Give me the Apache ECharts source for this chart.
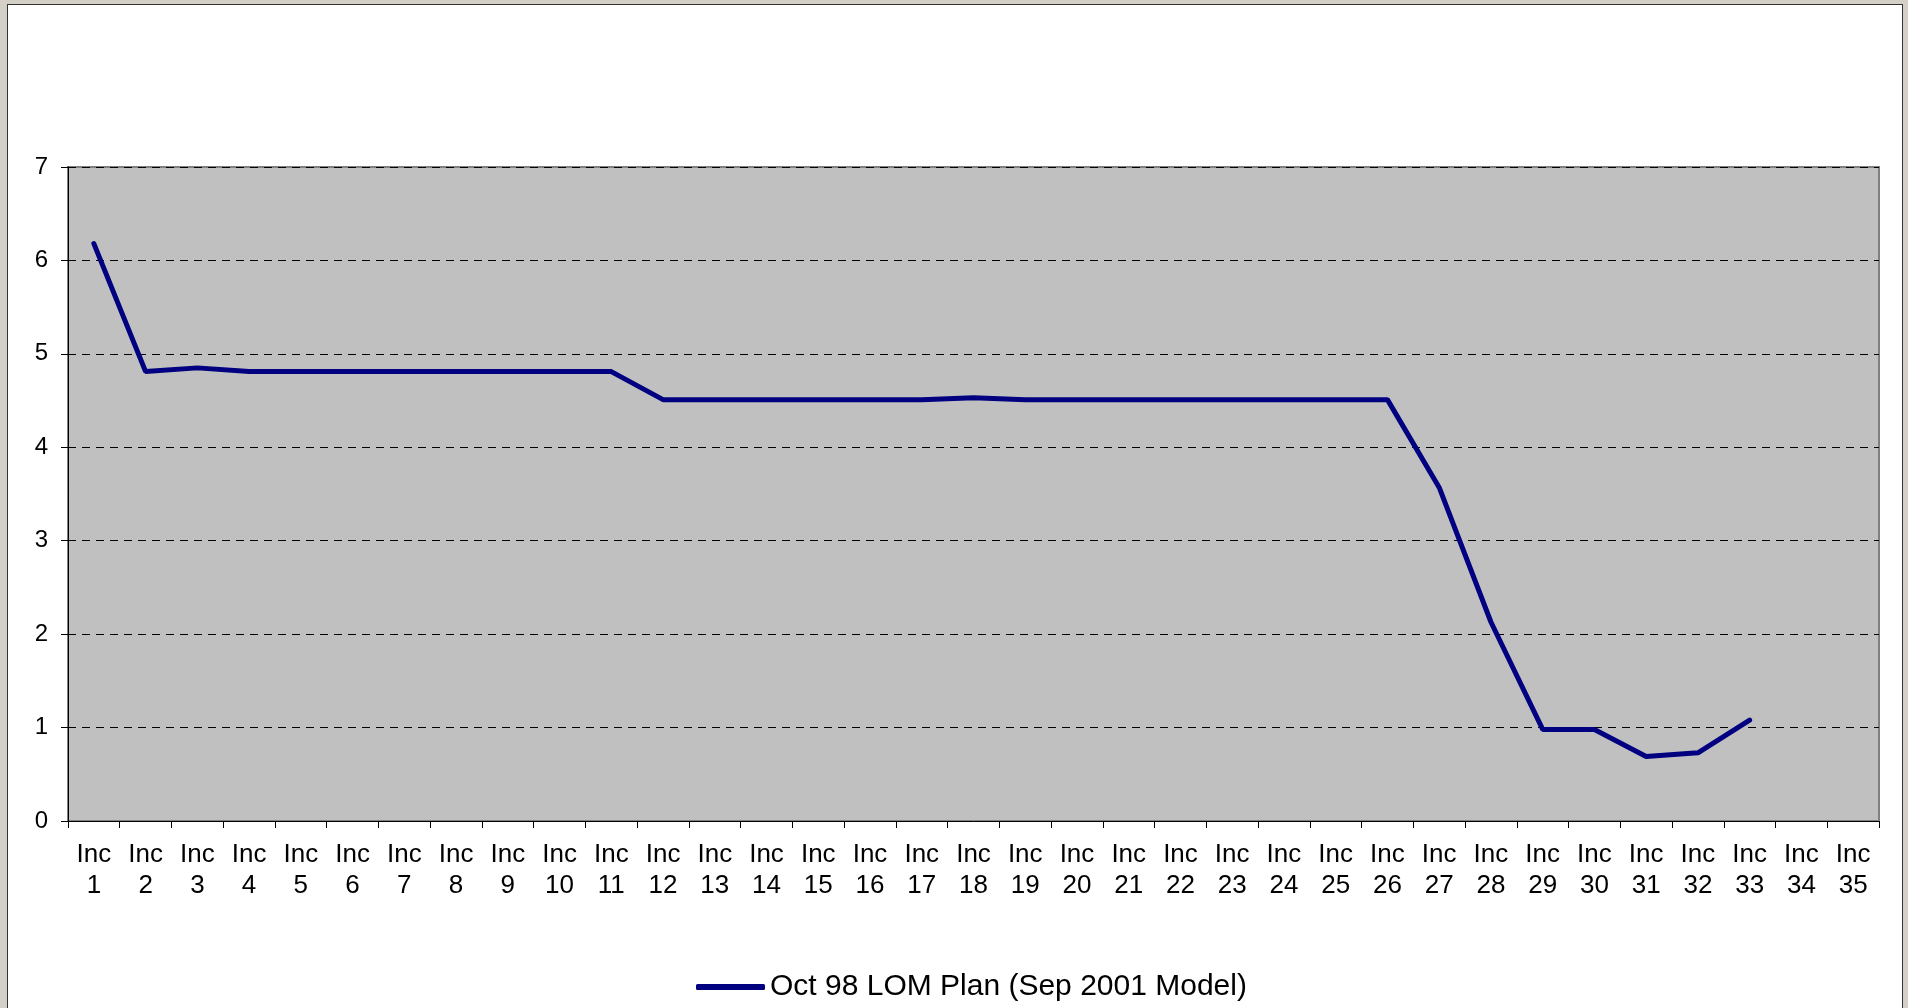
<!DOCTYPE html>
<html>
<head>
<meta charset="utf-8">
<script src="https://cdn.jsdelivr.net/npm/echarts@6/dist/echarts.min.js"></script>
<style>
  html, body { margin: 0; padding: 0; background: #d4d0c8; overflow: hidden; }
  #panel { position: absolute; left: 7px; top: 4px; width: 1894px; height: 1010px; background: #fff; border: 1px solid #333; }
  #chart { position: absolute; left: 0; top: 0; width: 1908px; height: 1008px; }
</style>
</head>
<body>
<div id="panel"></div>
<div id="chart"></div>
<script>
// categories Inc 1 .. Inc 35
const categories = [
  'Inc\n1', 'Inc\n2', 'Inc\n3', 'Inc\n4', 'Inc\n5', 'Inc\n6', 'Inc\n7',
  'Inc\n8', 'Inc\n9', 'Inc\n10', 'Inc\n11', 'Inc\n12', 'Inc\n13', 'Inc\n14',
  'Inc\n15', 'Inc\n16', 'Inc\n17', 'Inc\n18', 'Inc\n19', 'Inc\n20', 'Inc\n21',
  'Inc\n22', 'Inc\n23', 'Inc\n24', 'Inc\n25', 'Inc\n26', 'Inc\n27', 'Inc\n28',
  'Inc\n29', 'Inc\n30', 'Inc\n31', 'Inc\n32', 'Inc\n33', 'Inc\n34', 'Inc\n35'
];

const seriesName = 'Oct 98 LOM Plan (Sep 2001 Model)';

// values, last two increments empty
const lomPlan = [
  6.18, 4.81, 4.85, 4.81, 4.81, 4.81, 4.81, 4.81, 4.81, 4.81, 4.81,
  4.51, 4.51, 4.51, 4.51, 4.51, 4.51, 4.53, 4.51, 4.51, 4.51, 4.51,
  4.51, 4.51, 4.51, 4.51, 3.57, 2.13, 0.98, 0.98, 0.69, 0.73, 1.08,
  null, null
];

const yMin = 0;
const yMax = 7;
const yStep = 1;

const chart = echarts.init(document.getElementById('chart'));

const font = 'Arial, "Liberation Sans", sans-serif';

chart.setOption({
  animation: false,
  backgroundColor: 'transparent',
  textStyle: { fontFamily: font },
  grid: {
    left: 68,
    top: 167,
    width: 1811,
    height: 654,
    show: true,
    backgroundColor: '#c0c0c0',
    borderColor: '#808080',
    borderWidth: 2
  },
  legend: {
    left: 691,
    top: 967,
    icon: 'roundRect',
    itemWidth: 69,
    itemHeight: 6,
    itemGap: 10,
    textStyle: { color: '#000', fontSize: 30, fontFamily: font },
    data: [seriesName]
  },
  xAxis: {
    type: 'category',
    data: categories,
    boundaryGap: true,
    axisLine: { lineStyle: { color: '#000', width: 1 } },
    axisTick: { show: true, length: 7, alignWithLabel: false, lineStyle: { color: '#000' } },
    axisLabel: {
      interval: 0,
      color: '#000',
      fontSize: 26,
      lineHeight: 31,
      margin: 18,
      fontFamily: font
    },
    splitLine: { show: false }
  },
  yAxis: {
    type: 'value',
    min: yMin,
    max: yMax,
    interval: yStep,
    axisLine: { show: true, lineStyle: { color: '#000', width: 1 } },
    axisTick: { show: true, length: 7, lineStyle: { color: '#000' } },
    axisLabel: { color: '#000', fontSize: 24, margin: 20, fontFamily: font },
    splitLine: { show: true, lineStyle: { color: '#000', width: 1, type: [8, 6] } }
  },
  series: [
    {
      name: seriesName,
      type: 'line',
      data: lomPlan,
      symbol: 'none',
      connectNulls: false,
      color: '#000080',
      lineStyle: { color: '#000080', width: 5, cap: 'round' }
    }
  ]
});
</script>
</body>
</html>
